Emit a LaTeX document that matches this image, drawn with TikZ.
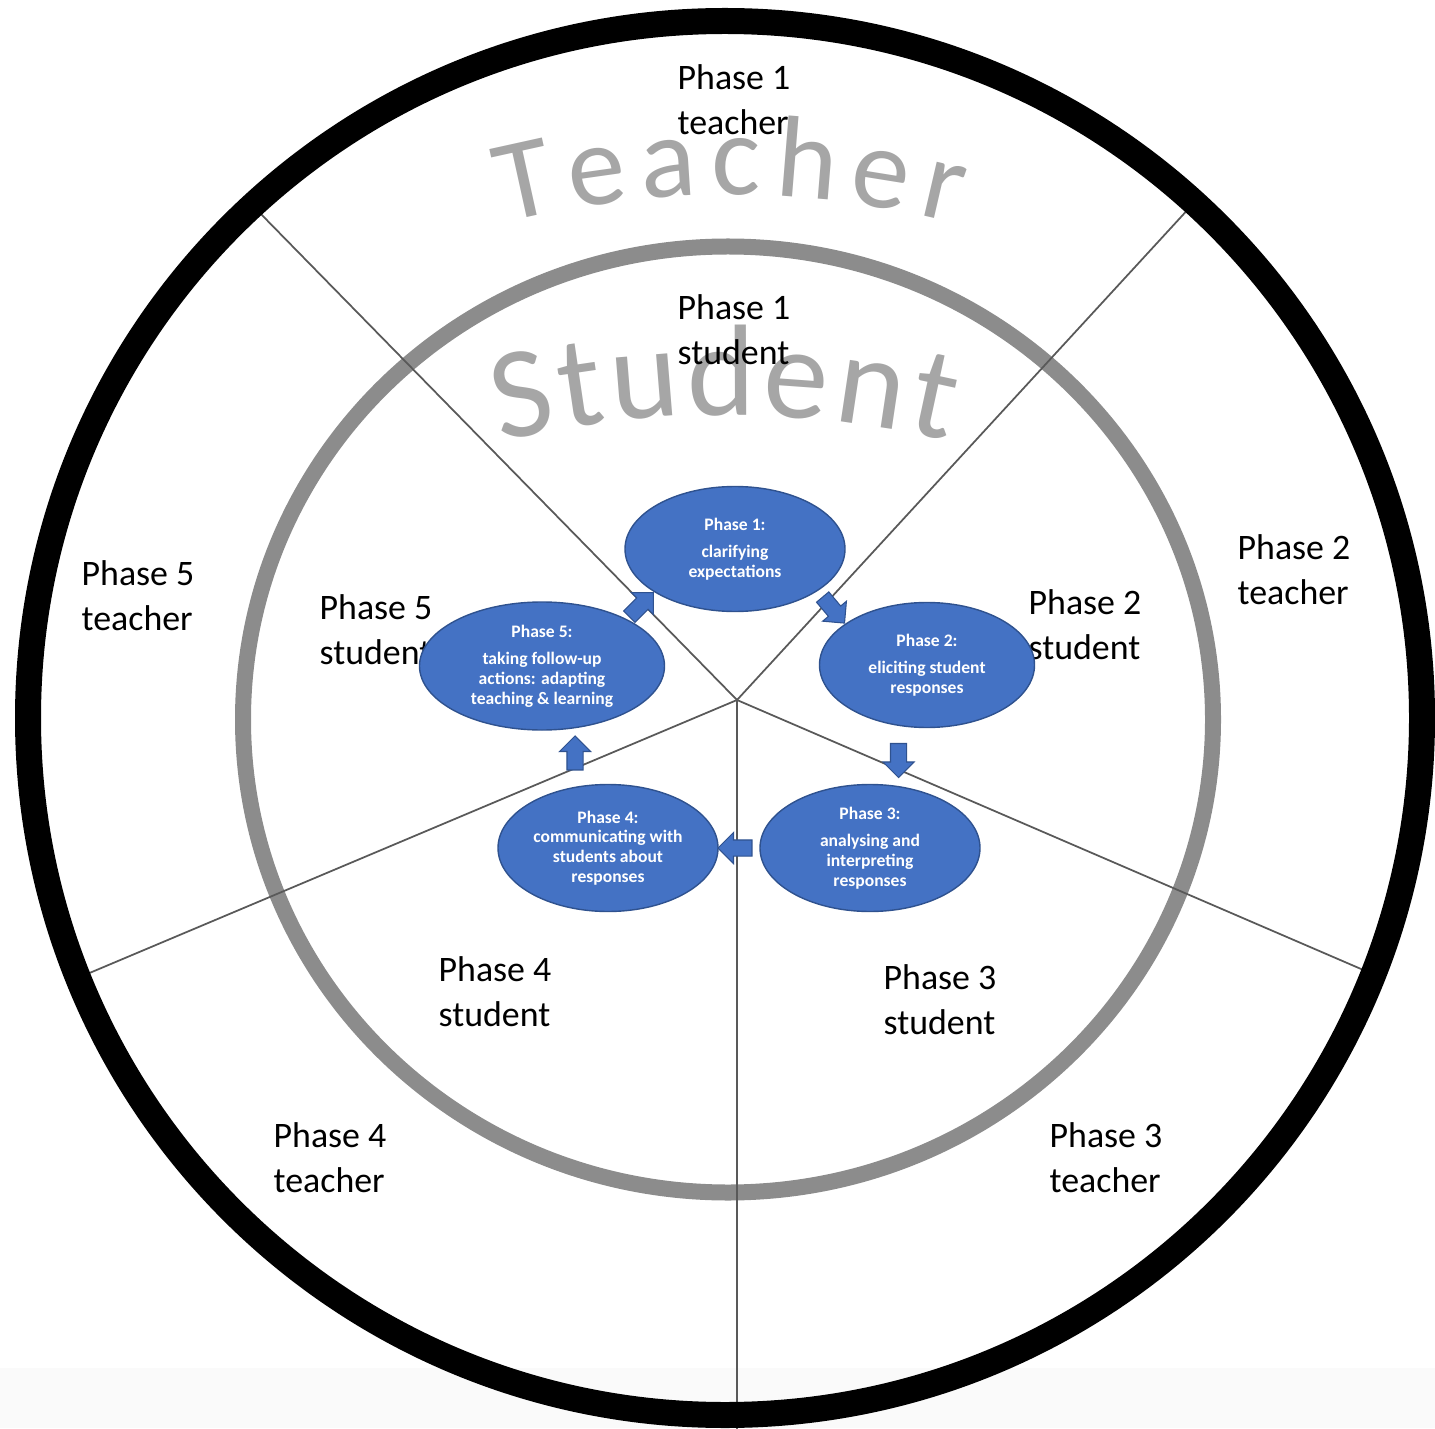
\documentclass[tikz,border=0pt]{standalone}
\usepackage{fontspec}
\setmainfont{Carlito}
\usepackage{xcolor}
\usetikzlibrary{shapes.geometric, shapes.arrows, calc, decorations.text}
\definecolor{phaseblue}{HTML}{4472C4}
\definecolor{phaseedge}{HTML}{2F528F}
\tikzstyle{phase} = [ellipse, fill=phaseblue, draw=phaseedge, line width=0.4pt, inner sep=0pt, text=white, align=center, font=\fontsize{5}{5.6}\selectfont\bfseries]
\tikzstyle{role} = [align=left, inner sep=0pt, font=\fontsize{10.2}{12.8}\selectfont]
\tikzstyle{blockarrow} = [single arrow, fill=phaseblue, draw=phaseedge, line width=0.3pt, minimum height=0.34cm, single arrow head extend=0.075cm, inner xsep=0pt, inner ysep=0.075cm]
\tikzstyle{spoke} = [line width=0.5pt, black!65]

\begin{document}
\begin{tikzpicture}
    \useasboundingbox (0,0) rectangle (14.35,14.28);
    \clip (0,0) rectangle (14.35,14.28);
    \fill[black!2] (0,0) rectangle (14.35,0.60);

    % Rings
    \coordinate (mid) at (7.25,7.10);
    \draw[black!45, line width=0.16cm] (7.28,7.085) ellipse [x radius=4.85, y radius=4.73];

    % Spokes from the hub
    \coordinate (hub) at (7.37,7.28);
    \coordinate (p1) at (2.55,12.20);
    \coordinate (p2) at (11.92,12.23);
    \coordinate (p3) at (13.75,4.53);
    \coordinate (p4) at (7.37,-0.10);
    \coordinate (p5) at (0.80,4.51);
    \foreach \p in {p1,p2,p3,p4,p5}
        \draw[spoke] (hub) -- (\p);

    \draw[black, line width=0.26cm] (mid) circle (6.97);

    % Curved ring titles
    \path[decorate, decoration={text along path, text color=black!35, text align={fit to path},
        text={|\fontsize{33}{33}\selectfont|Teacher}}]
        (7.30,3.13) ++(104.2:9.2) arc[start angle=104.2, end angle=75.7, radius=9.2];
    \path[decorate, decoration={text along path, text color=black!35, text align={fit to path},
        text={|\fontsize{37}{37}\selectfont|Student}}]
        (7.25,0.58) ++(103.6:9.55) arc[start angle=103.6, end angle=76.5, radius=9.55];

    % Teacher and student labels
    \node (t1) [role] at (7.34,13.28) {Phase 1\\teacher};
    \node (s1) [role] at (7.34,10.98) {Phase 1\\student};
    \node (t2) [role] at (12.94,8.58) {Phase 2\\teacher};
    \node (s2) [role] at (10.85,8.03) {Phase 2\\student};
    \node (s3) [role] at (9.40,4.28) {Phase 3\\student};
    \node (t3) [role] at (11.06,2.70) {Phase 3\\teacher};
    \node (s4) [role] at (4.95,4.36) {Phase 4\\student};
    \node (t4) [role] at (3.30,2.70) {Phase 4\\teacher};
    \node (t5) [role] at (1.38,8.32) {Phase 5\\teacher};
    \node (s5) [role] at (3.76,7.98) {Phase 5\\student};

    % Cycle of phases
    \node (e1) [phase, minimum width=2.20cm, minimum height=1.25cm] at (7.35,8.79) {Phase 1:\\[2.3pt]clarifying\\expectations};
    \node (e2) [phase, minimum width=2.15cm, minimum height=1.25cm] at (9.27,7.63) {Phase 2:\\[2.3pt]eliciting student\\responses};
    \node (e3) [phase, minimum width=2.20cm, minimum height=1.27cm] at (8.70,5.80) {Phase 3:\\[2.3pt]analysing and\\interpreting\\responses};
    \node (e4) [phase, minimum width=2.20cm, minimum height=1.27cm] at (6.08,5.80) {Phase 4:\\communicating with\\students about\\responses};
    \node (e5) [phase, minimum width=2.45cm, minimum height=1.28cm] at (5.42,7.62) {Phase 5:\\[2.3pt]taking follow-up\\actions: adapting\\teaching \& learning};

    \node (a12) [blockarrow, rotate=-50] at ($(e1)!0.5!(e2)$) {};
    \node (a23) [blockarrow, rotate=-90] at ($(e2)!0.5!(e3)$) {};
    \node (a34) [blockarrow, rotate=180] at ($(e3)!0.5!(e4)$) {};
    \node (a45) [blockarrow, rotate=90] at ($(e4)!0.5!(e5)$) {};
    \node (a51) [blockarrow, rotate=45] at ($(e5)!0.5!(e1)$) {};
\end{tikzpicture}
\end{document}
